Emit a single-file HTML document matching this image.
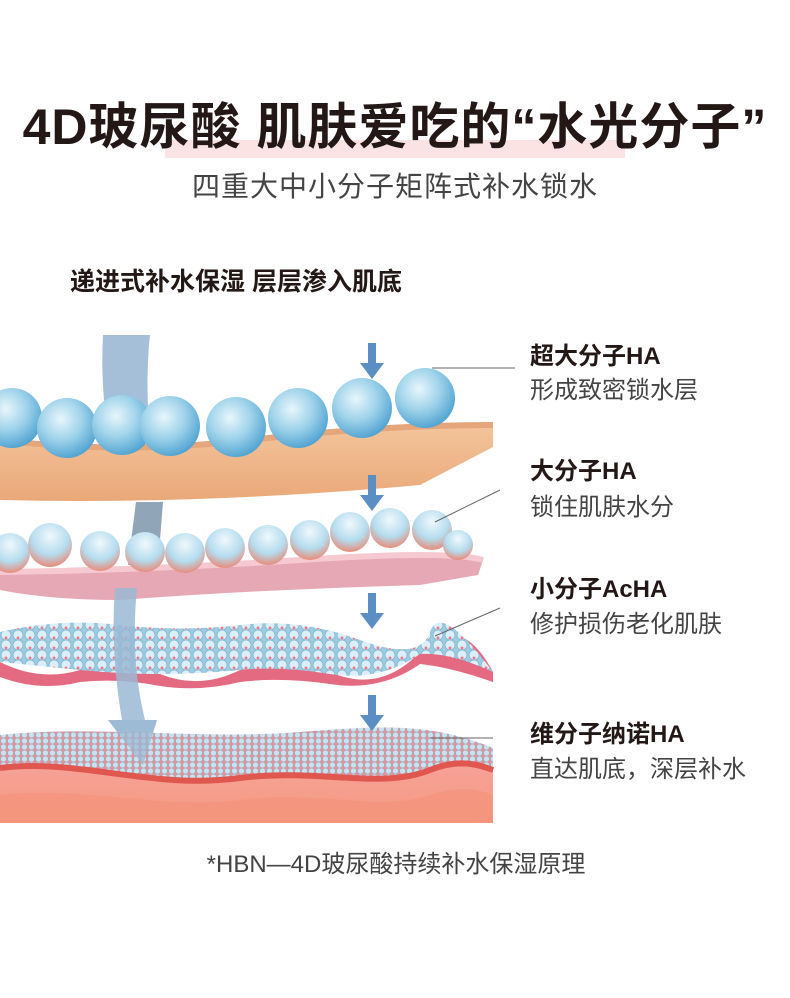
<!DOCTYPE html>
<html><head><meta charset="utf-8"><style>
body{margin:0;width:790px;height:993px;background:#fff;overflow:hidden;font-family:"Liberation Sans","Noto Sans CJK SC",sans-serif;}
</style></head><body>
<svg width="790" height="993" viewBox="0 0 790 993" xmlns="http://www.w3.org/2000/svg">
<defs>
<radialGradient id="b1" cx="0.4" cy="0.35" r="0.7"><stop offset="0" stop-color="#e8f6fc"/><stop offset="0.5" stop-color="#9fd3ea"/><stop offset="1" stop-color="#4a9fcf"/></radialGradient>
<radialGradient id="b2" cx="0.5" cy="0.3" r="0.7"><stop offset="0" stop-color="#f0f8fc"/><stop offset="0.6" stop-color="#b4dcee"/><stop offset="1" stop-color="#e88c7a"/></radialGradient>
<linearGradient id="tan" x1="0" y1="0" x2="0" y2="1"><stop offset="0" stop-color="#f3c49b"/><stop offset="1" stop-color="#eaa878"/></linearGradient>
<linearGradient id="red" x1="0" y1="0" x2="0" y2="1"><stop offset="0" stop-color="#f7a29a"/><stop offset="1" stop-color="#f49a7e"/></linearGradient>
<pattern id="beadA" width="12" height="10" patternUnits="userSpaceOnUse"><rect width="12" height="10" fill="#9fcbe0"/><circle cx="6" cy="5" r="5" fill="#dceff8" stroke="#7fb7d3" stroke-width="0.8"/><circle cx="6" cy="8" r="1.5" fill="#ec7c8c"/></pattern>
<pattern id="beadB" width="7" height="6" patternUnits="userSpaceOnUse"><rect width="7" height="6" fill="#e88f98"/><circle cx="3.5" cy="3" r="2.8" fill="#c9e3ee" stroke="#86b9d0" stroke-width="0.5"/></pattern>
</defs>
<rect x="165" y="140" width="460" height="18" fill="#fbe3e3"/>
<text x="395" y="144" text-anchor="middle" font-size="50" font-weight="bold" fill="#231815" letter-spacing="1">4D玻尿酸  肌肤爱吃的“水光分子”</text>
<text x="395" y="196" text-anchor="middle" font-size="28" fill="#444" letter-spacing="1">四重大中小分子矩阵式补水锁水</text>
<text x="70" y="290" font-size="25" font-weight="bold" fill="#231815">递进式补水保湿  层层渗入肌底</text>

<path d="M103 335 L150 335 Q145 380 150 440 L110 445 Q100 390 103 335Z" fill="#9ab8d3" opacity="0.9"/>

<!-- layer1 -->
<path d="M0 440 Q120 455 250 440 T493 425 L493 447 L420 485 Q200 505 0 500Z" fill="url(#tan)"/>
<path d="M0 440 Q120 455 250 440 T493 425" stroke="#e4a67a" stroke-width="6" fill="none"/>
<g fill="url(#b1)">
<circle cx="12" cy="418" r="30"/><circle cx="67" cy="428" r="30"/><circle cx="122" cy="425" r="30"/><circle cx="170" cy="426" r="30"/><circle cx="236" cy="427" r="30"/><circle cx="298" cy="418" r="30"/><circle cx="362" cy="408" r="30"/><circle cx="425" cy="398" r="30"/>
</g>
<path d="M136 502 L163 502 L158 565 L128 565Z" fill="#7d95ab" opacity="0.85"/>
<!-- layer2 -->
<path d="M0 572 Q150 570 300 560 T483 560 L478 575 L420 585 Q250 590 120 600 Q50 600 0 590Z" fill="#e7a8b6"/>
<path d="M0 572 Q150 570 300 560 T483 560" stroke="#f5c9cf" stroke-width="6" fill="none"/>
<g fill="url(#b2)">
<circle cx="10" cy="553" r="20"/><circle cx="50" cy="545" r="22"/><circle cx="100" cy="551" r="20"/><circle cx="145" cy="552" r="20"/><circle cx="185" cy="553" r="20"/><circle cx="225" cy="548" r="20"/><circle cx="268" cy="545" r="20"/><circle cx="310" cy="540" r="20"/><circle cx="350" cy="532" r="20"/><circle cx="390" cy="528" r="20"/><circle cx="432" cy="530" r="20"/><circle cx="458" cy="545" r="15"/>
</g>
<!-- layer3 -->
<path d="M0 662 Q40 682 80 670 T160 674 T240 670 T330 672 T420 652 T493 672 L493 682 Q450 667 420 664 Q380 692 330 684 Q280 677 240 682 Q200 692 160 686 Q120 678 80 682 Q40 692 0 677Z" fill="#e46a82"/>
<path d="M0 632 Q60 618 120 625 T240 625 T360 640 T430 632 T490 668 L493 672 Q450 652 420 654 Q380 682 330 674 T240 670 T160 674 T80 670 T0 662Z" fill="url(#beadA)"/>
<path d="M115 588 L137 588 Q130 660 145 720 L157 720 L143 765 L108 720 L122 720 Q110 650 115 588Z" fill="#9ab8d3" opacity="0.85"/>
<!-- layer4 -->
<path d="M0 768 C80 758 150 790 240 778 C320 768 380 790 430 770 C460 758 480 765 493 770 L493 823 L0 823Z" fill="url(#red)"/>
<path d="M0 795 C80 785 160 810 240 800 C320 790 380 812 430 795 C460 785 480 790 493 795 L493 823 L0 823Z" fill="#f4937c" opacity="0.7"/>
<path d="M0 735 C100 725 200 740 300 732 C380 726 430 722 493 748 L493 770 C480 765 460 758 430 770 C380 790 320 768 240 778 C150 790 80 758 0 768Z" fill="url(#beadB)"/>
<path d="M0 768 C80 758 150 790 240 778 C320 768 380 790 430 770 C460 758 480 765 493 770" stroke="#e0574f" stroke-width="6" fill="none"/>
<path d="M122 720 L157 720 L143 765 L108 720Z" fill="#9ab8d3" opacity="0.7"/>
<g fill="#5b8fc4">
<path d="M368 343h8v20h8l-12 16-12-16h8z"/>
<path d="M368 475h8v20h8l-12 16-12-16h8z"/>
<path d="M368 593h8v20h8l-12 16-12-16h8z"/>
<path d="M368 695h8v20h8l-12 16-12-16h8z"/>
</g>
<g stroke="#666" stroke-width="1"><line x1="432" y1="368" x2="515" y2="368"/><line x1="435" y1="522" x2="500" y2="490"/><line x1="435" y1="636" x2="500" y2="608"/><line x1="430" y1="738" x2="493" y2="738"/></g>
<g fill="#231815">
<text x="530" y="364" font-size="24" font-weight="bold">超大分子HA</text>
<text x="530" y="398" font-size="24" fill="#444">形成致密锁水层</text>
<text x="530" y="479" font-size="24" font-weight="bold">大分子HA</text>
<text x="530" y="515" font-size="24" fill="#444">锁住肌肤水分</text>
<text x="530" y="597" font-size="24" font-weight="bold">小分子AcHA</text>
<text x="530" y="632" font-size="24" fill="#444">修护损伤老化肌肤</text>
<text x="530" y="742" font-size="24" font-weight="bold">维分子纳诺HA</text>
<text x="530" y="777" font-size="24" fill="#444">直达肌底，深层补水</text>
</g>
<text x="396" y="872" text-anchor="middle" font-size="24" fill="#444">*HBN—4D玻尿酸持续补水保湿原理</text>
</svg>
</body></html>
